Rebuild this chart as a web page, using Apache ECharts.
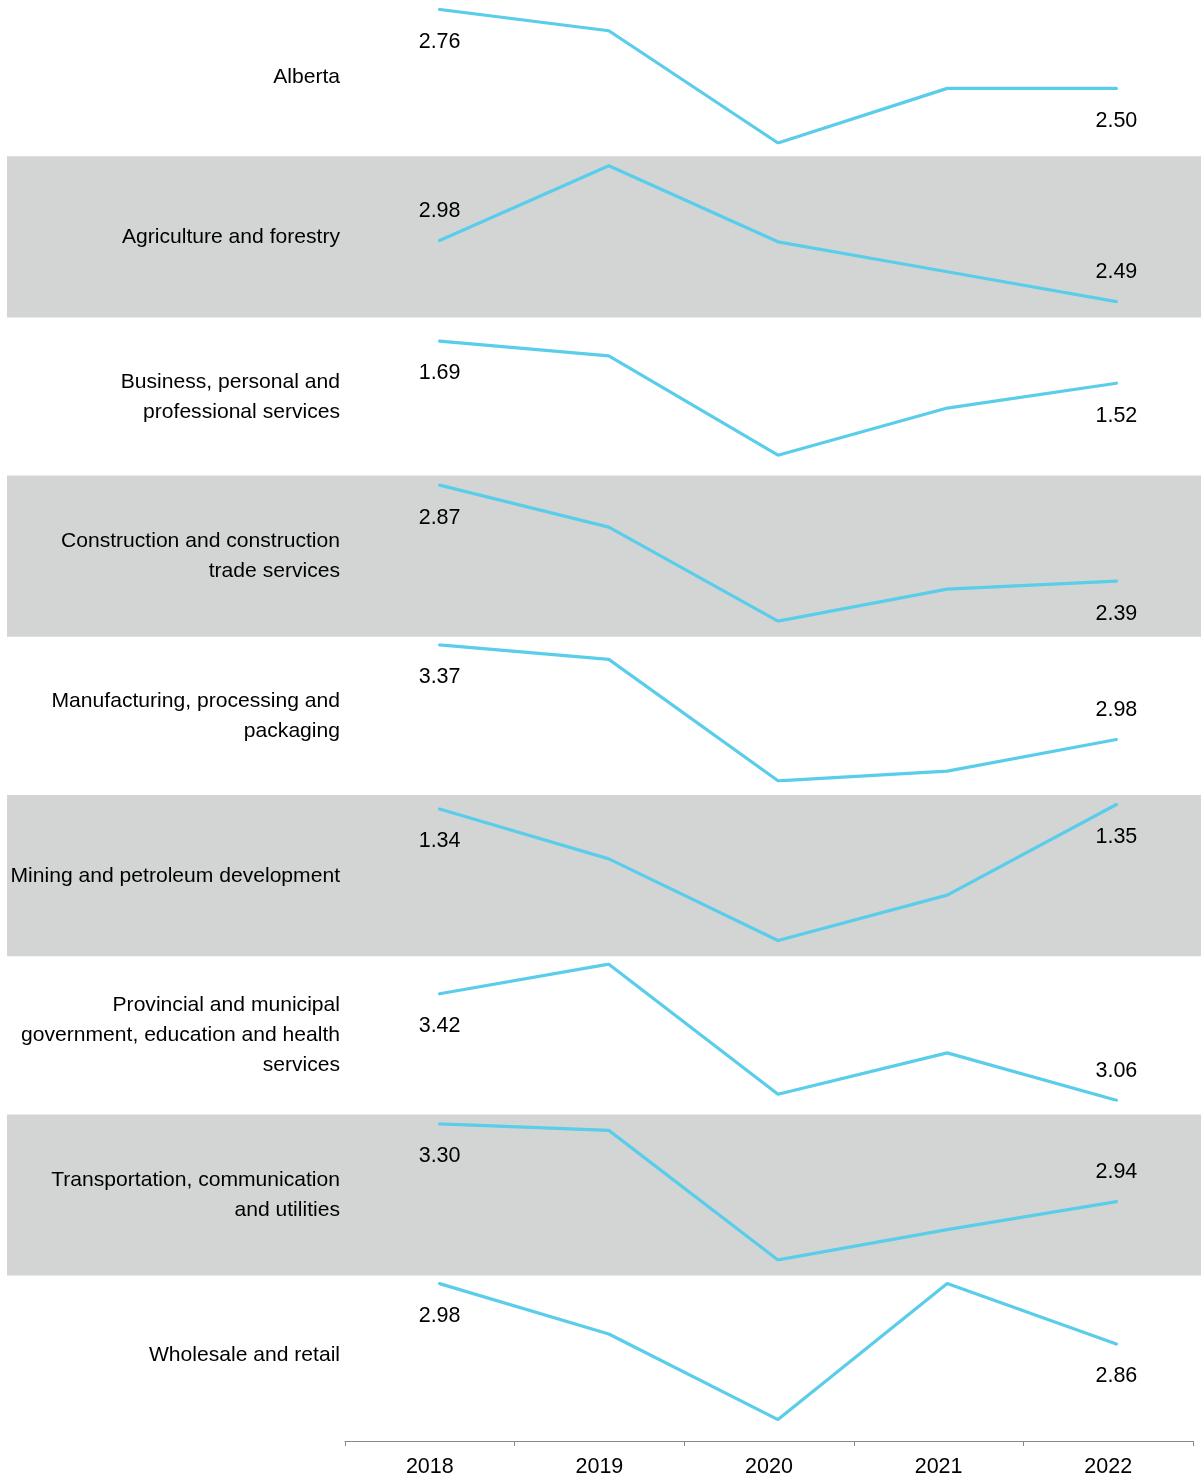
<!DOCTYPE html>
<html>
<head>
<meta charset="utf-8">
<script src="https://cdn.jsdelivr.net/npm/echarts@6/dist/echarts.min.js"></script>
<style>
  html, body { margin: 0; padding: 0; background: #ffffff; }
  #main { width: 1201px; height: 1479px; }
</style>
</head>
<body>
<div id="main"></div>
<script>
// Years on the shared horizontal axis
const years = ['2018', '2019', '2020', '2021', '2022'];

// Row titles (sector names)
const rowNames = [
  'Alberta',
  'Agriculture and forestry',
  'Business, personal and\nprofessional services',
  'Construction and construction\ntrade services',
  'Manufacturing, processing and\npackaging',
  'Mining and petroleum development',
  'Provincial and municipal\ngovernment, education and health\nservices',
  'Transportation, communication\nand utilities',
  'Wholesale and retail'
];

// Values per sector, 2018–2022
const alberta        = [2.76, 2.69, 2.32, 2.50, 2.50];
const agriculture    = [2.98, 3.58, 2.97, 2.73, 2.49];
const business       = [1.69, 1.63, 1.23, 1.42, 1.52];
const construction   = [2.87, 2.66, 2.19, 2.35, 2.39];
const manufacturing  = [3.37, 3.31, 2.81, 2.85, 2.98];
const mining         = [1.34, 1.23, 1.05, 1.15, 1.35];
const government     = [3.42, 3.52, 3.08, 3.22, 3.06];
const transportation = [3.30, 3.27, 2.67, 2.81, 2.94];
const wholesale      = [2.98, 2.88, 2.71, 2.98, 2.86];

const rowValues = [alberta, agriculture, business, construction, manufacturing,
                   mining, government, transportation, wholesale];

// Where the first / last value label sits relative to its point
const firstLabelSide = ['bottom', 'top', 'bottom', 'bottom', 'bottom', 'bottom', 'bottom', 'bottom', 'bottom'];
const lastLabelSide  = ['bottom', 'top', 'bottom', 'bottom', 'top', 'bottom', 'top', 'top', 'bottom'];

// Vertical extent of each row's value axis (null = fit to data)
const rowRanges = [null, null, [1.205, 1.753], null, null, null, null, null, null];

// ---- layout ----
const FONT = '"Liberation Sans", Arial, Helvetica, sans-serif';
const TOP0 = -3.5;
const ROW_H = 159.7;
const PLOT_PAD = 9.5;
const PLOT_H = 136;
const LINE_COLOR = '#5ACDEA';
const BAND_COLOR = '#D3D5D4';

const grids = [], xAxes = [], yAxes = [], series = [], graphics = [];

rowValues.forEach((vals, i) => {
  const top = TOP0 + i * ROW_H;
  if (i % 2 === 1) {
    graphics.push({
      type: 'rect', silent: true, z: -10,
      shape: { x: 7, y: top, width: 1194, height: ROW_H + 1.5 },
      style: { fill: BAND_COLOR }
    });
  }
  graphics.push({
    type: 'text', silent: true, z: 5,
    x: 340, y: top + ROW_H / 2 + 1,
    style: {
      text: rowNames[i], align: 'right', verticalAlign: 'middle',
      fontFamily: FONT, fontSize: 21.1, lineHeight: 30, fill: '#000000'
    }
  });

  // the top row keeps a small margin from the page edge
  const plotTop = Math.max(top + PLOT_PAD, 9.5);
  const plotBottom = top + PLOT_PAD + PLOT_H + (i === 0 ? 1 : 0);
  grids.push({ left: 355, width: 846, top: plotTop, height: plotBottom - plotTop });
  xAxes.push({ type: 'category', gridIndex: i, data: years, boundaryGap: true, show: false });
  const range = rowRanges[i];
  yAxes.push({
    type: 'value', gridIndex: i, show: false, scale: true,
    min: range ? range[0] : 'dataMin',
    max: range ? range[1] : 'dataMax'
  });
  series.push({
    type: 'line', xAxisIndex: i, yAxisIndex: i,
    symbol: 'circle', symbolSize: 1,
    lineStyle: { color: LINE_COLOR, width: 3.2, cap: 'round' },
    itemStyle: { color: LINE_COLOR },
    silent: true,
    data: vals.map((v, j) => {
      const last = j === vals.length - 1;
      const show = j === 0 || last;
      const side = j === 0 ? firstLabelSide[i] : lastLabelSide[i];
      return {
        value: v,
        label: {
          show: show,
          position: side,
          distance: side === 'top' ? 18 : 21,
          fontFamily: FONT, fontSize: 21.5, color: '#000000',
          formatter: (p) => p.value.toFixed(2)
        }
      };
    })
  });
});

// Shared year axis along the bottom
const axisGrid = grids.length;
grids.push({ left: 345, right: 8, top: 1440, height: 1 });
xAxes.push({
  type: 'category', gridIndex: axisGrid, data: years, boundaryGap: true, position: 'bottom',
  axisLine: { show: true, lineStyle: { color: '#888888', width: 1 } },
  axisTick: { show: true, length: 5, interval: 0, lineStyle: { color: '#888888' } },
  axisLabel: { fontFamily: FONT, fontSize: 21.5, color: '#000000', margin: 15, interval: 0 }
});
yAxes.push({ type: 'value', gridIndex: axisGrid, show: false });

const chart = echarts.init(document.getElementById('main'), null, { renderer: 'canvas' });
chart.setOption({
  animation: false,
  backgroundColor: '#ffffff',
  grid: grids,
  xAxis: xAxes,
  yAxis: yAxes,
  series: series,
  graphic: { elements: graphics }
});
</script>
</body>
</html>
